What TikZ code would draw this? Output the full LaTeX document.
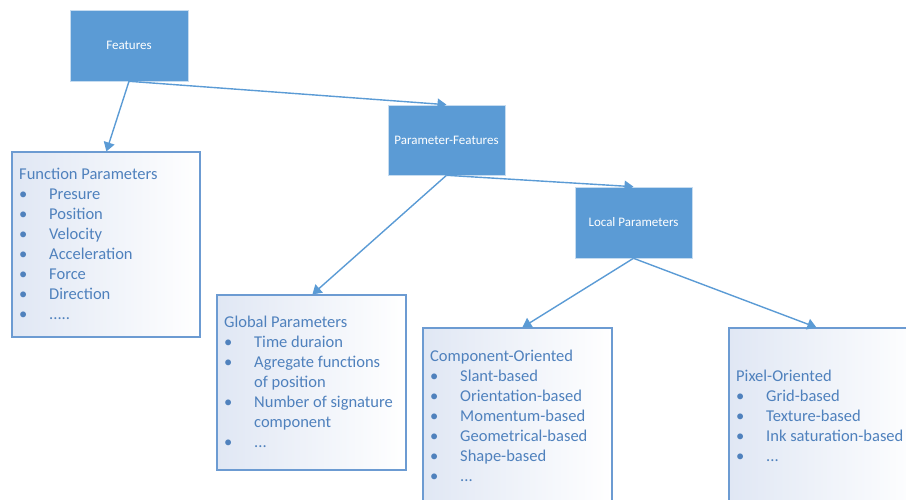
\documentclass[tikz,border=0pt]{standalone}
\usepackage{fontspec}
\setmainfont{Carlito}
\usetikzlibrary{arrows.meta,shadows}
\definecolor{acc}{HTML}{5B9BD5}
\definecolor{txtblue}{HTML}{4F81BD}
\definecolor{lbord}{HTML}{6C9BD2}
\definecolor{lfill}{HTML}{E0E7F4}
\newcommand{\itm}[1]{\makebox[30pt][l]{\textbullet}#1}
\newcommand{\cnt}[1]{\makebox[30pt][l]{}#1}
\begin{document}
\begin{tikzpicture}[x=1pt,y=-1pt,
  dark/.style={draw=white!65!acc, line width=0.6pt, fill=acc, text=white,
    font=\fontsize{13}{15}\selectfont, inner sep=0,
    drop shadow={shadow xshift=1.2pt, shadow yshift=-1.5pt, opacity=0.18, fill=black!50}},
  lightbox/.style={draw=lbord, line width=1.2pt, left color=lfill, right color=white,
    inner sep=0},
  list/.style={anchor=north west, inner sep=0, align=left, text=txtblue,
    font=\fontsize{16.5}{20}\selectfont},
  arr/.style={draw=acc, line width=1.4pt, -{Triangle[width=11pt,length=9pt]}}
]
\useasboundingbox (0,0) rectangle (906,500);
\clip (0,0) rectangle (906,500);

\node[dark, minimum width=118pt, minimum height=71pt] (feat) at (129,45.5) {Features};
\node[dark, minimum width=117pt, minimum height=70pt] (pf) at (446.5,140) {Parameter-Features};
\node[dark, minimum width=117pt, minimum height=71pt] (loc) at (633.5,222.5) {Local Parameters};

\node[lightbox, minimum width=188pt, minimum height=185pt] (func) at (106,244.5) {};
\node[lightbox, minimum width=189pt, minimum height=175pt] (glob) at (311.5,382.5) {};
\node[lightbox, minimum width=189pt, minimum height=200pt] (comp) at (517.5,428) {};
\node[lightbox, minimum width=195pt, minimum height=200pt] (pix) at (826.5,428) {};

\node[list] (funct) at (19,165) {\rule{0pt}{14pt}Function Parameters\\
  \itm{Presure}\\ \itm{Position}\\ \itm{Velocity}\\ \itm{Acceleration}\\
  \itm{Force}\\ \itm{Direction}\\ \itm{.....}};
\node[list] (globt) at (224,313) {\rule{0pt}{14pt}Global Parameters\\
  \itm{Time duraion}\\ \itm{Agregate functions}\\ \cnt{of position}\\
  \itm{Number of signature}\\ \cnt{component}\\ \itm{...}};
\node[list] (compt) at (430,347) {\rule{0pt}{14pt}Component-Oriented\\
  \itm{Slant-based}\\ \itm{Orientation-based}\\ \itm{Momentum-based}\\
  \itm{Geometrical-based}\\ \itm{Shape-based}\\ \itm{...}};
\node[list] (pixt) at (736,367) {\rule{0pt}{14pt}Pixel-Oriented\\
  \itm{Grid-based}\\ \itm{Texture-based}\\ \itm{Ink saturation-based}\\ \itm{...}};

\draw[arr] (feat.south) -- ([xshift=95pt]func.north west);
\draw[arr] (feat.south) -- (pf.north);
\draw[arr] (pf.south) -- ([xshift=96pt]glob.north west);
\draw[arr] (pf.south) -- (loc.north);
\draw[arr] (loc.south) -- ([xshift=100pt]comp.north west);
\draw[arr] (loc.south) -- ([xshift=88pt]pix.north west);
\end{tikzpicture}
\end{document}
